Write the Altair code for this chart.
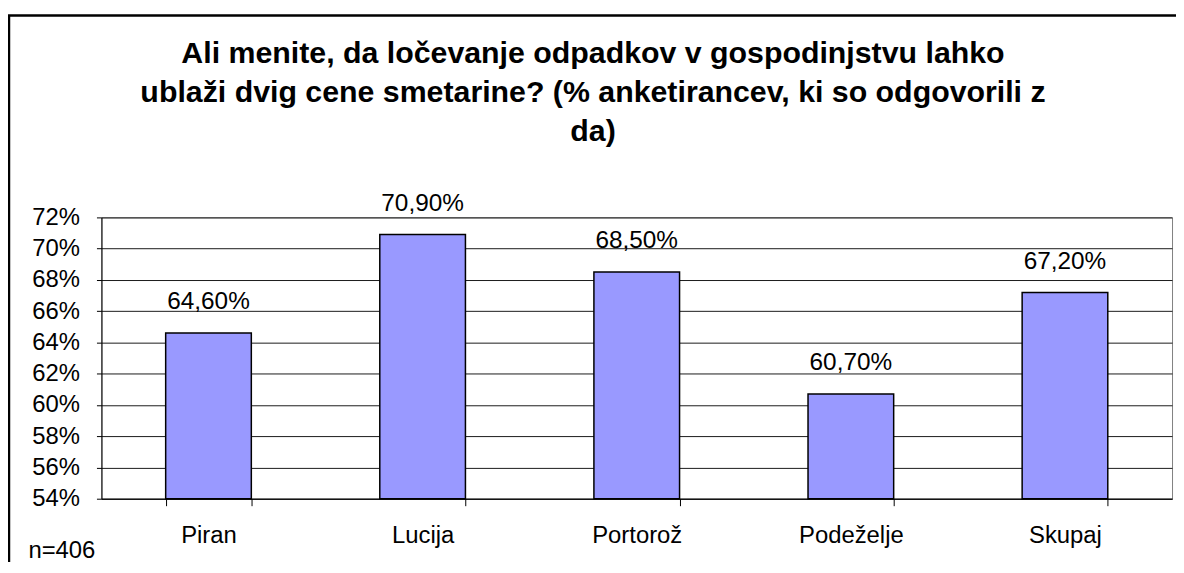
import altair as alt
import pandas as pd

categories = ["Piran", "Lucija", "Portorož", "Podeželje", "Skupaj"]
values = [64.6, 70.9, 68.5, 60.7, 67.2]
value_labels = ["64,60%", "70,90%", "68,50%", "60,70%", "67,20%"]
y_ticks = [54, 56, 58, 60, 62, 64, 66, 68, 70, 72]
title_lines = [
    "Ali menite, da ločevanje odpadkov v gospodinjstvu lahko",
    "ublaži dvig cene smetarine? (% anketirancev, ki so odgovorili z",
    "da)",
]
note = "n=406"

FONT = "Liberation Sans"

df = pd.DataFrame({"cat": categories, "val": values, "lab": value_labels})

x = alt.X(
    "cat:N",
    sort=categories,
    scale=alt.Scale(paddingInner=0.6, paddingOuter=0.3),
    axis=alt.Axis(
        title=note,
        titleAnchor="start",
        titleAlign="left",
        titleX=-74,
        titleY=59,
        titleBaseline="alphabetic",
        titleFont=FONT,
        titleFontSize=24,
        titleFontWeight="normal",
        titleColor="black",
        labelAngle=0,
        labelFont=FONT,
        labelFontSize=24,
        labelColor="black",
        labelBaseline="alphabetic",
        labelPadding=37,
        tickBand="extent",
        tickSize=7,
        tickColor="black",
        domainColor="black",
        grid=False,
    ),
)
y = alt.Y(
    "val:Q",
    scale=alt.Scale(domain=[y_ticks[0], y_ticks[-1]], nice=False, zero=False),
    axis=alt.Axis(
        values=y_ticks,
        labelExpr="datum.value + '%'",
        title=None,
        grid=True,
        gridColor="#1a1a1a",
        gridWidth=1,
        labelFont=FONT,
        labelFontSize=24,
        labelColor="black",
        labelPadding=17,
        tickSize=5,
        tickColor="black",
        domainColor="black",
    ),
)

base = alt.Chart(df)
bars = base.mark_bar(fill="#9999FF", stroke="black", strokeWidth=1.5).encode(
    x=x, y=y, y2=alt.datum(y_ticks[0])
)
text = base.mark_text(
    baseline="alphabetic", dy=-24, fontSize=24.5, font=FONT, color="black"
).encode(x=x, y=y, text="lab:N")

border = alt.Chart(pd.DataFrame({"k": [0]})).mark_rect(
    fillOpacity=0, stroke="black", strokeWidth=2.5
).encode(
    x=alt.value(-93), x2=alt.value(1200), y=alt.value(-203), y2=alt.value(420)
)

chart = (
    alt.layer(bars, text, border)
    .properties(
        width=1077,
        height=283,
        padding={"left": 94, "top": 209, "right": 4, "bottom": 62},
        autosize=alt.AutoSizeParams(type="none"),
        title=alt.TitleParams(
            text=title_lines,
            font=FONT,
            fontSize=30.5,
            fontWeight="bold",
            color="black",
            anchor="middle",
            dx=-44,
            dy=138,
            lineHeight=39.5,
        ),
    )
    .configure_view(stroke="#808080", strokeWidth=1)
)

chart.save("out.html", embed_options={"renderer": "svg", "actions": False})
